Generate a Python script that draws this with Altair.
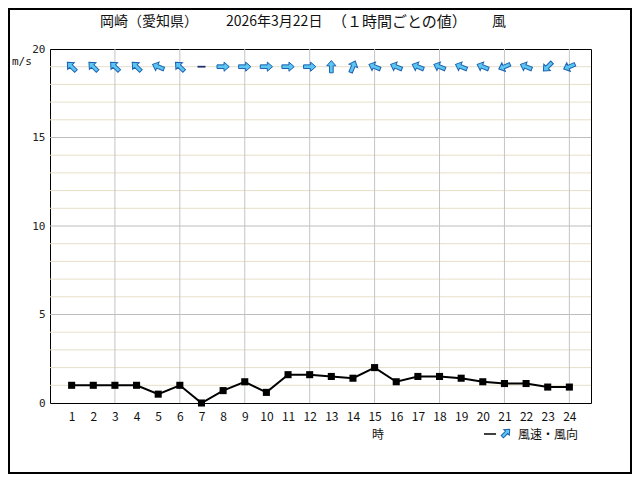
import altair as alt
import pandas as pd

# ---- data ----
hours = list(range(1, 25))
speed = [1.0, 1.0, 1.0, 1.0, 0.5, 1.0, 0.0, 0.7, 1.2, 0.6, 1.6, 1.6,
         1.5, 1.4, 2.0, 1.2, 1.5, 1.5, 1.4, 1.2, 1.1, 1.1, 0.9, 0.9]
direction = ["南東", "南東", "南東", "南東", "東南東", "南東", "静穏", "西",
             "西", "西", "西", "西", "南", "南南西", "東南東", "東南東",
             "東南東", "東南東", "東南東", "東南東", "東北東", "東南東", "北東", "東北東"]
compass = ["北", "北北東", "北東", "東北東", "東", "東南東", "南東", "南南東",
           "南", "南南西", "南西", "西南西", "西", "西北西", "北西", "北北西"]
y_major = [5, 10, 15]
y_minor = [v for v in range(1, 20) if v % 5 != 0]
x_grid = [3, 6, 9, 12, 15, 18, 21, 24]
y_labels = [0, 5, 10, 15, 20]
arrow_level = 19

title_parts = ["岡崎（愛知県）", "2026年3月22日", "（１時間ごとの値）", "風"]

# ---- tables ----
df = pd.DataFrame({"hour": hours, "speed": speed, "dir": direction})
ang = {name: i * 22.5 for i, name in enumerate(compass)}
df["angle"] = [((ang[d] + 180) % 360) if d in ang else 0 for d in direction]
df["lvl"] = arrow_level
arrows = df[df["dir"] != "静穏"]
calm = df[df["dir"] == "静穏"]

FONT = "Noto Sans CJK JP"
ARROW = "M0,-1 L0.75,-0.15 L0.3,-0.15 L0.3,1 L-0.3,1 L-0.3,-0.15 L-0.75,-0.15 Z"

X = alt.Scale(domain=[0, 25], nice=False, zero=False)
Y = alt.Scale(domain=[0, 20], nice=False)
XA = alt.Axis(values=hours, grid=False, ticks=False, domain=False,
              labelFont=FONT, labelFontSize=12, labelColor="#111",
              labelPadding=8, labelAngle=0, title=None)
YA = alt.Axis(values=y_labels, grid=False, ticks=False, domain=False,
              labelFont="DejaVu Sans Mono", labelFontSize=11,
              labelColor="#222", labelPadding=5, title=None)


def xe(f):
    return alt.X(f, scale=X, axis=XA, title=None)


def ye(f):
    return alt.Y(f, scale=Y, axis=YA, title=None)


minor = alt.Chart(pd.DataFrame({"v": y_minor})).mark_rule(
    color="#e6dfc8", strokeWidth=1).encode(y=ye("v:Q"))
major = alt.Chart(pd.DataFrame({"v": y_major})).mark_rule(
    color="#bdbdbd", strokeWidth=1).encode(y=ye("v:Q"))
vgrid = alt.Chart(pd.DataFrame({"h": x_grid})).mark_rule(
    color="#c4c4c4", strokeWidth=1).encode(x=xe("h:Q"))

line = alt.Chart(df).mark_line(color="black", strokeWidth=2).encode(
    x=xe("hour:Q"), y=ye("speed:Q"))
squares = alt.Chart(df).mark_square(color="black", size=50, opacity=1).encode(
    x=xe("hour:Q"), y=ye("speed:Q"))

arrow_layer = alt.Chart(arrows).mark_point(
    shape=ARROW, filled=True, fill="#5cc6f2", stroke="#1b62b0",
    strokeWidth=1, size=150, opacity=1).encode(
    x=xe("hour:Q"), y=ye("lvl:Q"),
    angle=alt.Angle("angle:Q", scale=None))

calm_layer = alt.Chart(calm).mark_point(
    shape="M-1,-0.22 L1,-0.22 L1,0.22 L-1,0.22 Z", filled=True,
    fill="#1b2f6e", size=64, opacity=1).encode(
    x=xe("hour:Q"), y=ye("lvl:Q"))


def txt(s, x, y, size=13, align="left", font=FONT):
    return alt.Chart(pd.DataFrame({"t": [s]})).mark_text(
        font=font, fontSize=size, align=align, baseline="middle",
        color="#111").encode(text="t:N", x=alt.value(x), y=alt.value(y))


title_x = [50, 176, 282, 442]
title_sz = [14, 14, 15, 14]
titles = [txt(s, x, -27, size=z) for s, x, z in zip(title_parts, title_x, title_sz)]

unit = txt("m/s", -38, 13, size=11, font="DejaVu Sans Mono")
hour_lbl = txt("時", 328, 386, size=12, align="center")
leg_text = txt("風速・風向", 468, 386, size=12)

leg_line = alt.Chart(pd.DataFrame({"a": [0]})).mark_rule(
    color="black", strokeWidth=1.5).encode(
    x=alt.value(434), x2=alt.value(446), y=alt.value(385))
leg_arrow = alt.Chart(pd.DataFrame({"a": [45]})).mark_point(
    shape=ARROW, filled=True, fill="#5cc6f2", stroke="#1b62b0",
    strokeWidth=1, size=110, opacity=1).encode(
    x=alt.value(456), y=alt.value(384), angle=alt.Angle("a:Q", scale=None))

border = alt.Chart(pd.DataFrame({"a": [0]})).mark_rect(
    fillOpacity=0, stroke="black", strokeWidth=2).encode(
    x=alt.value(-41), x2=alt.value(581), y=alt.value(-40), y2=alt.value(424))

chart = alt.layer(
    minor, major, vgrid, line, squares, arrow_layer, calm_layer,
    *titles, unit, hour_lbl, leg_line, leg_arrow, leg_text, border
).properties(
    width=541, height=354,
    padding={"left": 42, "top": 41, "right": 41, "bottom": 71},
    autosize=alt.AutoSizeParams(type="none"),
    background="white",
).configure_view(stroke="black", strokeWidth=1)

chart.save("out.html", embed_options={"renderer": "svg", "actions": False})
